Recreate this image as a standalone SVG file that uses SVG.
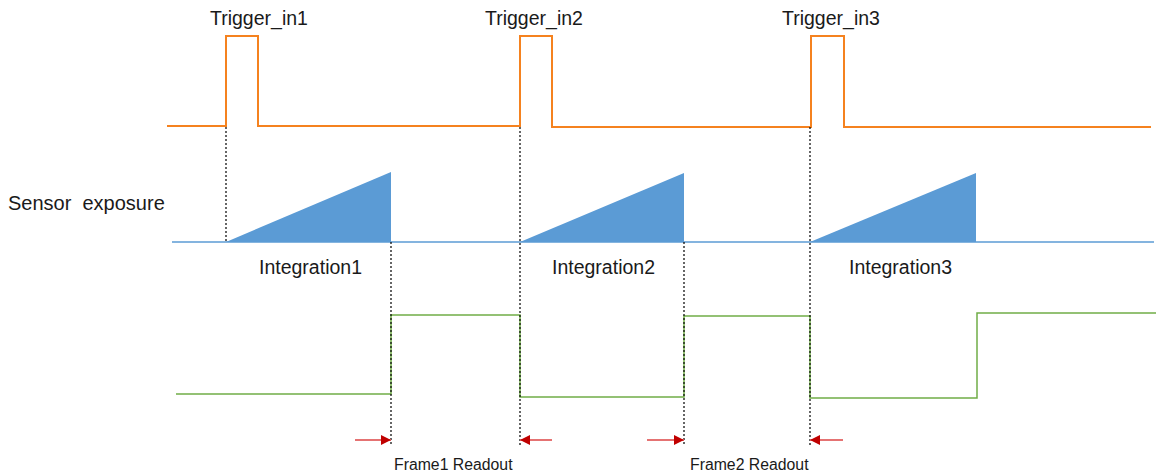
<svg xmlns="http://www.w3.org/2000/svg" width="1158" height="475" viewBox="0 0 1158 475">
<defs>
<style>
.lbl{font-family:"Liberation Sans",Arial,sans-serif;font-size:19.5px;fill:#1a1a1a}
.small{font-family:"Liberation Sans",Arial,sans-serif;font-size:15.8px;fill:#1a1a1a}
.trig{fill:none;stroke:#f5821f;stroke-width:2}
.exp{fill:none;stroke:#5b9bd5;stroke-width:1.5}
.tri{fill:#5b9bd5;stroke:none}
.rd{fill:none;stroke:#70ad47;stroke-width:1.5}
.dot{stroke:#000;stroke-width:1.2;stroke-dasharray:2,2;fill:none}
.arr{stroke:#e57373;stroke-width:2;fill:none}
</style>
<marker id="ah" viewBox="0 0 10 10" refX="10" refY="5" markerWidth="10" markerHeight="10" markerUnits="userSpaceOnUse" orient="auto">
<path d="M0,0 L10,5 L0,10 Z" fill="#c00000"/>
</marker>
</defs>
<rect width="1158" height="475" fill="#fff"/>
<g id="trigger-signal">
<path class="trig" d="M167,126 H226 V36 H258 V126 H520 V36 H552 V127 H811 V36 H844 V127 H1151"/>
<text class="lbl" x="210" y="25">Trigger_in1</text>
<text class="lbl" x="485" y="25">Trigger_in2</text>
<text class="lbl" x="782" y="25">Trigger_in3</text>
</g>
<g id="sensor-exposure">
<text class="lbl" x="8" y="210" xml:space="preserve" style="font-size:20px">Sensor  exposure</text>
<path class="exp" d="M172,242 H1154"/>
<polygon class="tri" points="226,242 391,172 391,242"/>
<polygon class="tri" points="520,242 684,173 684,242"/>
<polygon class="tri" points="810,242 976,173 976,242"/>
<text class="lbl" x="259" y="274">Integration1</text>
<text class="lbl" x="552" y="274">Integration2</text>
<text class="lbl" x="849" y="274">Integration3</text>
</g>
<g id="readout-signal">
<path class="rd" d="M176,394 H391 V315 H520 V397 H684 V316 H810 V398 H977 V313 H1156"/>
</g>
<g id="connectors">
<line class="dot" x1="226" y1="127" x2="226" y2="242"/>
<line class="dot" x1="391" y1="242" x2="391" y2="445"/>
<line class="dot" x1="520" y1="127" x2="520" y2="445"/>
<line class="dot" x1="684" y1="242" x2="684" y2="445"/>
<line class="dot" x1="810" y1="127" x2="810" y2="445"/>
<line class="arr" x1="355" y1="440" x2="391" y2="440" marker-end="url(#ah)"/>
<line class="arr" x1="552" y1="440" x2="520" y2="440" marker-end="url(#ah)"/>
<line class="arr" x1="647" y1="440" x2="684" y2="440" marker-end="url(#ah)"/>
<line class="arr" x1="843" y1="440" x2="810" y2="440" marker-end="url(#ah)"/>
</g>
<g id="readout-labels">
<text class="small" x="394" y="470">Frame1 Readout</text>
<text class="small" x="690" y="470">Frame2 Readout</text>
</g>
</svg>
